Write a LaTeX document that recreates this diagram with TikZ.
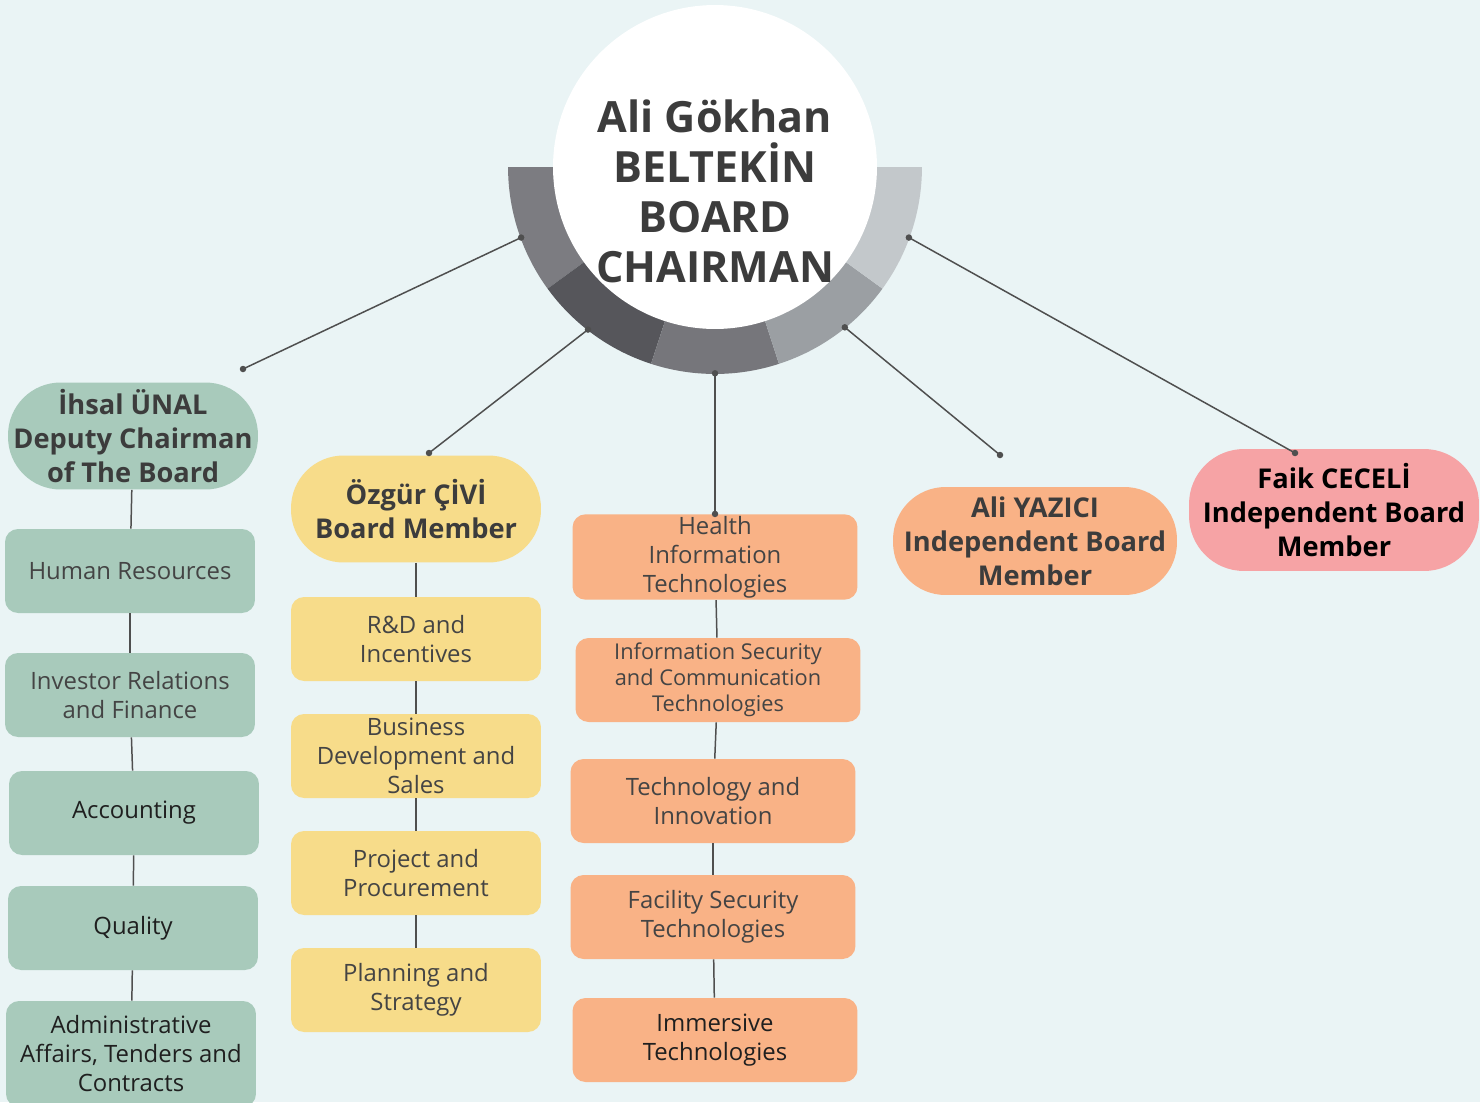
\documentclass[tikz,border=0pt]{standalone}
\usepackage{fontspec}
\setmainfont{Open Sans}
\definecolor{bg}{HTML}{EAF4F5}
\definecolor{greenbox}{HTML}{A8CABB}
\definecolor{yellowbox}{HTML}{F7DC8A}
\definecolor{orangebox}{HTML}{F9B286}
\definecolor{pinkbox}{HTML}{F6A3A5}
\definecolor{textgray}{HTML}{444444}
\definecolor{textdark}{HTML}{1F1F1F}
\definecolor{headgray}{HTML}{3C3C3C}
\definecolor{linegray}{HTML}{4F4F4F}
\definecolor{ringA}{HTML}{7C7C81}
\definecolor{ringB}{HTML}{56565B}
\definecolor{ringC}{HTML}{76767B}
\definecolor{ringD}{HTML}{9B9FA3}
\definecolor{ringE}{HTML}{C3C8CB}
\begin{document}
\begin{tikzpicture}[x=0.02cm, y=-0.02cm,
    box/.style={rectangle, rounded corners=0.26cm, minimum width=5cm, minimum height=1.68cm,
      inner sep=1pt, align=center, text=textgray, font=\fontsize{13.6}{16.5}\selectfont},
    head/.style={rectangle, rounded corners=1.05cm, minimum width=5cm, minimum height=2.14cm,
      inner sep=1pt, align=center, text=headgray, font=\bfseries\fontsize{15.5}{19.3}\selectfont},
    link/.style={draw=linegray, line width=0.85pt}]
      \useasboundingbox (0, 0) rectangle (1480, 1102);
      \fill[bg] (0, 0) rectangle (1480, 1102);
      \clip (0, 0) rectangle (1480, 1102);

      \begin{scope}[shift={(715, 167)}]
        \foreach \a/\col in {180/ringA, 216/ringB, 252/ringC, 288/ringD, 324/ringE}
          \fill[\col] (\a:4.14cm) arc[start angle=\a, delta angle=36, radius=4.14cm]
            -- ({\a+36}:3.2cm) arc[start angle=\a+36, delta angle=-36, radius=3.2cm] -- cycle;
        \fill[white] (0, 0) circle[radius=3.24cm];
      \end{scope}
      \node[circle, minimum size=8.24cm, inner sep=0pt] (ring) at (715, 167) {};
      \node[align=center, text=headgray, font=\bfseries\fontsize{24.5}{28.5}\selectfont]
        (chair) at (715, 191) {Ali Gökhan\\BELTEKİN\\BOARD\\CHAIRMAN};

      \node[head, fill=greenbox] (ihsal) at (133, 436) {İhsal ÜNAL\\Deputy Chairman\\of The Board};
      \node[head, fill=yellowbox] (ozgur) at (416, 509) {Özgür ÇİVİ\\Board Member};
      \node[head, fill=orangebox, minimum width=5.68cm, minimum height=2.16cm]
        (ali) at (1035, 541) {Ali YAZICI\\Independent Board\\Member};
      \node[head, fill=pinkbox, text=black, minimum width=5.8cm, minimum height=2.44cm,
        rounded corners=1.1cm] (faik) at (1334, 510) {Faik CECELİ\\Independent Board\\Member};

      \node[box, fill=greenbox] (hr) at (130, 571) {Human Resources};
      \node[box, fill=greenbox] (investor) at (130, 695) {Investor Relations\\and Finance};
      \node[box, fill=greenbox, text=textdark] (accounting) at (134, 813) {Accounting};
      \node[box, fill=greenbox, text=textdark] (quality) at (133, 928) {Quality};
      \node[box, fill=greenbox, text=textdark, minimum height=2.12cm]
        (admin) at (131, 1054) {Administrative\\Affairs, Tenders and\\Contracts};

      \node[box, fill=yellowbox] (rnd) at (416, 639) {R\&D and\\Incentives};
      \node[box, fill=yellowbox] (busdev) at (416, 756) {Business\\Development and\\Sales};
      \node[box, fill=yellowbox] (project) at (416, 873) {Project and\\Procurement};
      \node[box, fill=yellowbox] (planning) at (416, 990) {Planning and\\Strategy};

      \node[box, fill=orangebox, minimum width=5.7cm] (health) at (715, 557) {Health\\Information\\Technologies};
      \node[box, fill=orangebox, minimum width=5.7cm, font=\fontsize{12.4}{14.8}\selectfont]
        (infosec) at (718, 680) {Information Security\\and Communication\\Technologies};
      \node[box, fill=orangebox, minimum width=5.7cm] (techinno) at (713, 801) {Technology and\\Innovation};
      \node[box, fill=orangebox, minimum width=5.7cm] (facility) at (713, 917) {Facility Security\\Technologies};
      \node[box, fill=orangebox, minimum width=5.7cm, text=textdark]
        (immersive) at (715, 1040) {Immersive\\Technologies};

      \coordinate (ihsalend) at (243, 369);
      \coordinate (ozgurend) at (429, 453);
      \coordinate (aliend) at (1000, 455);
      \coordinate (faikend) at (1295, 453);

      \foreach \a/\e in {200/ihsalend, 232/ozgurend, 309/aliend, 340/faikend} {
        \draw[link] (ring.\a) -- (\e);
        \fill[linegray] (ring.\a) circle[radius=0.065cm] (\e) circle[radius=0.065cm];
      }
      \draw[link] (ring.270) -- (health.north);
      \fill[linegray] (ring.270) circle[radius=0.065cm] (health.north) circle[radius=0.065cm];

      \foreach \a/\b in {ihsal/hr, hr/investor, investor/accounting, accounting/quality, quality/admin,
        ozgur/rnd, rnd/busdev, busdev/project, project/planning,
        health/infosec, infosec/techinno, techinno/facility, facility/immersive}
        \draw[link] (\a) -- (\b);
    \end{tikzpicture}
\end{document}
